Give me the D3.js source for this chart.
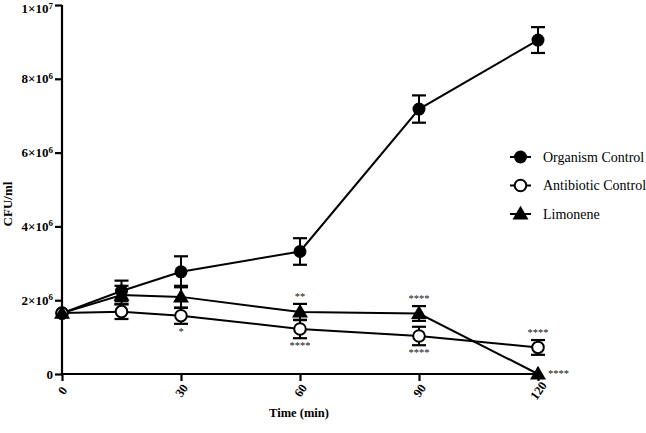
<!DOCTYPE html>
<html><head><meta charset="utf-8">
<script src="https://cdn.jsdelivr.net/npm/d3@7"></script>
<style>body{margin:0;background:#fff}svg{display:block}text{font-family:"Liberation Serif","DejaVu Serif",serif}</style>
</head><body>
<svg id="c" width="646" height="433"></svg>
<script>
const times = [0, 15, 30, 60, 90, 120];
const organism = [1.65e6, 2.25e6, 2.77e6, 3.32e6, 7.18e6, 9.05e6];
const organismErr = [0.05e6, 0.28e6, 0.42e6, 0.36e6, 0.37e6, 0.35e6];
const antibiotic = [1.65e6, 1.69e6, 1.58e6, 1.22e6, 1.03e6, 0.72e6];
const antibioticErr = [0.05e6, 0.2e6, 0.22e6, 0.25e6, 0.25e6, 0.2e6];
const limonene = [1.65e6, 2.14e6, 2.09e6, 1.68e6, 1.64e6, 0];
const limoneneErr = [0.05e6, 0.25e6, 0.3e6, 0.22e6, 0.2e6, 0];
const yTicks = [0, 2e6, 4e6, 6e6, 8e6, 1e7];
const xTicks = [0, 30, 60, 90, 120];
const seriesNames = ["Organism Control", "Antibiotic Control", "Limonene"];
// significance annotations: [series index, time index, label, position]
const annotations = [
  [1, 2, "*", "below"], [1, 3, "****", "below"], [2, 3, "**", "above"],
  [2, 4, "****", "above"], [1, 4, "****", "below"],
  [1, 5, "****", "above"], [2, 5, "****", "right"]
];

const svg = d3.select("#c");
const x = d3.scaleLinear().domain([0, 120]).range([62, 538]);
const y = d3.scaleLinear().domain([0, 1e7]).range([374, 5]);

const series = [
  {name: seriesNames[0], vals: organism, err: organismErr, sym: "fcircle"},
  {name: seriesNames[1], vals: antibiotic, err: antibioticErr, sym: "ocircle"},
  {name: seriesNames[2], vals: limonene, err: limoneneErr, sym: "tri"}
];

// axes
const yAxis = d3.axisLeft(y).tickValues(yTicks).tickSize(7).tickFormat("");
const xAxis = d3.axisBottom(x).tickValues(xTicks).tickSize(7).tickFormat("");
const gy = svg.append("g").attr("transform", "translate(62,0)").call(yAxis);
const gx = svg.append("g").attr("transform", "translate(0,374)").call(xAxis);
[gy, gx].forEach(g => {
  g.selectAll("path.domain").attr("stroke", "#000").attr("stroke-width", 2.2);
  g.selectAll(".tick line").attr("stroke", "#000").attr("stroke-width", 2.2);
});
gy.select("path.domain").attr("d", "M0,374V5");
gx.select("path.domain").attr("d", "M62,0H538");

// y tick labels
function fmt(v) {
  if (v === 0) return ["0", null];
  const e = Math.floor(Math.log10(v));
  const m = Math.round(v / Math.pow(10, e));
  return [m + "×10", String(e)];
}
yTicks.forEach(v => {
  const [b, sup] = fmt(v);
  const t = svg.append("text").attr("x", 53).attr("y", Math.max(y(v) + 4.5, 13))
    .attr("text-anchor", "end").attr("font-size", 13).attr("font-weight", "bold");
  t.append("tspan").text(b);
  if (sup) t.append("tspan").attr("dy", -4.5).attr("font-size", 9).text(sup);
});
xTicks.forEach(v => {
  svg.append("text").attr("transform", `translate(${x(v) + 4},${393}) rotate(-55)`)
    .attr("text-anchor", "middle").attr("font-size", 12.5).attr("font-weight", "bold").text(v);
});
svg.append("text").attr("x", 299).attr("y", 417).attr("text-anchor", "middle")
  .attr("font-size", 12.5).attr("font-weight", "bold").text("Time (min)");
svg.append("text").attr("transform", "translate(12,204) rotate(-90)").attr("text-anchor", "middle")
  .attr("font-size", 13).attr("font-weight", "bold").text("CFU/ml");

const line = d3.line().x((d, i) => x(times[i])).y(d => y(d));

function drawSym(g, sym, cx, cy) {
  if (sym === "fcircle") g.append("circle").attr("cx", cx).attr("cy", cy).attr("r", 6.5).attr("fill", "#000");
  else if (sym === "ocircle") g.append("circle").attr("cx", cx).attr("cy", cy).attr("r", 5.8).attr("fill", "#fff").attr("stroke", "#000").attr("stroke-width", 2);
  else g.append("path").attr("d", d3.symbol().type(d3.symbolTriangle).size(110)()).attr("transform", `translate(${cx},${cy + 1})`).attr("fill", "#000");
}

// draw order: lines first
series.forEach(s => {
  svg.append("path").attr("d", line(s.vals)).attr("fill", "none").attr("stroke", "#000").attr("stroke-width", 2);
});
series.forEach(s => {
  const g = svg.append("g");
  s.vals.forEach((v, i) => {
    const cx = x(times[i]);
    if (s.err[i] > 0.1e6) {
      const y1 = y(v + s.err[i]), y2 = y(v - s.err[i]);
      g.append("line").attr("x1", cx).attr("x2", cx).attr("y1", y1).attr("y2", y2).attr("stroke", "#000").attr("stroke-width", 2);
      [y1, y2].forEach(yy => g.append("line").attr("x1", cx - 7).attr("x2", cx + 7).attr("y1", yy).attr("y2", yy).attr("stroke", "#000").attr("stroke-width", 2.2));
    }
    drawSym(g, s.sym, cx, y(v));
  });
});

// annotations
annotations.forEach(([si, ti, lab, pos]) => {
  const s = series[si];
  const v = s.vals[ti], e = s.err[ti];
  const cx = x(times[ti]);
  let tx = cx, ty, anchor = "middle";
  if (pos === "above") ty = y(v + e) - 4;
  else if (pos === "below") ty = y(v - e) + 11;
  else { tx = cx + 10; ty = y(v) + 3; anchor = "start"; }
  svg.append("text").attr("x", tx).attr("y", ty).attr("text-anchor", anchor)
    .attr("font-size", 10.5).attr("font-family", "DejaVu Sans, sans-serif").attr("fill", "#111").text(lab);
});

// legend
series.forEach((s, i) => {
  const ly = 157 + i * 28.5;
  const g = svg.append("g");
  g.append("line").attr("x1", 510).attr("x2", 531).attr("y1", ly).attr("y2", ly).attr("stroke", "#000").attr("stroke-width", 2);
  drawSym(g, s.sym, 520.5, ly);
  svg.append("text").attr("x", 543).attr("y", ly + 4.5).attr("font-size", 14).text(s.name);
});
</script>
</body></html>
